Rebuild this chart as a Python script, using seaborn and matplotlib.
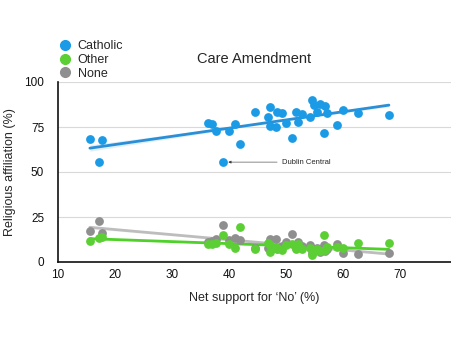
import matplotlib
matplotlib.use("Agg")
import matplotlib.pyplot as plt
from matplotlib.lines import Line2D
import numpy as np
import pandas as pd
import seaborn as sns

# Net support for 'No' per constituency (%)
net_no = [15.6, 17.2, 17.8, 36.4, 37.1, 37.7, 39.0, 40.0, 41.1, 42.0, 44.5, 46.9,
          47.3, 47.3, 48.2, 48.4, 49.4, 50.1, 51.0, 51.7, 52.2, 52.8, 54.2, 54.6,
          54.9, 55.5, 56.0, 56.7, 56.9, 57.3, 59.0, 60.1, 62.6, 68.1]
# Religious affiliation shares (%)
catholic = [68.5, 55.5, 67.6, 77.4, 76.7, 73.0, 55.5, 73.0, 76.8, 65.7, 83.5, 80.4,
            86.3, 75.7, 75.2, 83.2, 83.0, 77.0, 68.7, 83.3, 78.0, 82.2, 80.7, 90.0,
            87.0, 83.5, 88.0, 71.8, 86.5, 82.8, 76.1, 84.4, 83.0, 81.9]
other = [11.9, 13.1, 14.0, 10.0, 10.2, 10.5, 14.8, 10.0, 7.6, 19.3, 7.2, 10.7,
         5.7, 9.5, 7.6, 8.0, 6.7, 9.4, 10.0, 7.0, 10.0, 7.0, 8.0, 3.9,
         6.0, 7.0, 6.0, 15.2, 6.5, 8.5, 8.5, 7.6, 10.7, 10.7]
none = [17.0, 22.6, 15.9, 11.0, 11.5, 13.0, 20.7, 12.0, 13.1, 12.0, 8.0, 8.0,
        7.0, 12.8, 12.8, 7.5, 9.0, 11.0, 15.4, 8.0, 11.3, 9.0, 9.5, 5.0,
        6.0, 8.0, 5.5, 9.4, 6.0, 7.5, 10.0, 4.8, 4.4, 4.8]

series = ["Catholic", "Other", "None"]
x_ticks = [10, 20, 30, 40, 50, 60, 70]
y_ticks = [0, 25, 50, 75, 100]

df = pd.DataFrame({"net_no": net_no, "Catholic": catholic, "Other": other, "None": none})

sns.set_style("white")
plt.rcParams["font.family"] = ["Liberation Sans", "DejaVu Sans"]

dot_colors = {"Catholic": "#1b9ae6", "Other": "#5ccf35", "None": "#8f8f8f"}
line_colors = {"Catholic": "#2a8fd6", "Other": "#4fd12a", "None": "#bdbdbd"}

fig = plt.figure(figsize=(4.51, 3.39), dpi=100)
ax = fig.add_axes([58 / 451, 77 / 339, (451 - 58) / 451, 180 / 339])

for name in ["Catholic", "None", "Other"]:
    sns.regplot(data=df, x="net_no", y=name, ax=ax, ci=40, truncate=True,
                color=line_colors[name],
                scatter_kws=dict(s=40, color=dot_colors[name], alpha=1, linewidths=0, zorder=3),
                line_kws=dict(lw=2.0, color=line_colors[name], zorder=2))

ax.set_xlim(10, 79)
ax.set_ylim(0, 100)
ax.set_xticks(x_ticks)
ax.set_yticks(y_ticks)
ax.tick_params(axis="both", length=0, labelsize=8.5, colors="#111111")
ax.tick_params(axis="y", pad=10)
ax.tick_params(axis="x", pad=5)
ax.yaxis.grid(True, color="#d9d9d9", lw=0.8)
ax.set_axisbelow(True)
for side in ["top", "right"]:
    ax.spines[side].set_visible(False)
for side in ["left", "bottom"]:
    ax.spines[side].set_color("#111111")
    ax.spines[side].set_linewidth(1.2)

ax.set_xlabel("Net support for \u2018No\u2019 (%)", fontsize=9, labelpad=8)
ax.set_ylabel("Religious affiliation (%)", fontsize=9, labelpad=6)
ax.set_title("Care Amendment", fontsize=10.5, pad=14)

# Label the outlier constituency
ax.annotate("Dublin Central", xy=(39.9, 55.5), xytext=(49.3, 55.5),
            fontsize=5.5, va="center", ha="left",
            arrowprops=dict(arrowstyle="-|>", lw=0.4, color="#333333",
                            mutation_scale=4, shrinkA=1, shrinkB=0))

handles = [Line2D([], [], marker="o", ls="", markersize=7, color=dot_colors[n]) for n in series]
fig.legend(handles, series, loc="upper left", bbox_to_anchor=(54 / 451, 1 - 35 / 339),
           frameon=False, fontsize=9, handletextpad=0.5, labelspacing=0.15,
           borderaxespad=0, handlelength=1.0)

fig.savefig("out.png", dpi=100)
